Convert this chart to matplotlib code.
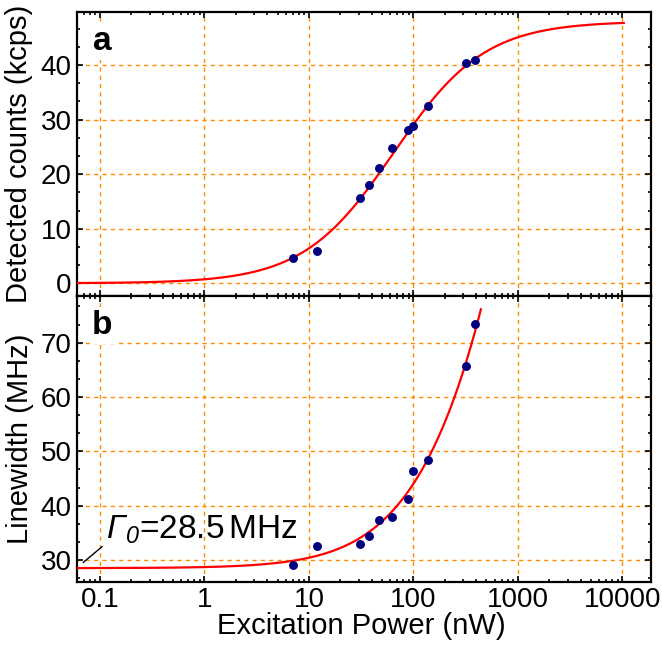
import numpy as np
import matplotlib.pyplot as plt
from matplotlib.ticker import FixedLocator, FixedFormatter, LogLocator, NullFormatter, MultipleLocator

plt.rcParams['font.family'] = ['Liberation Sans', 'DejaVu Sans']
plt.rcParams['mathtext.fontset'] = 'custom'
plt.rcParams['mathtext.rm'] = 'Liberation Sans:italic'
plt.rcParams['mathtext.it'] = 'Liberation Sans:italic'

power = [7.0, 12.0, 30.6, 37.3, 47.2, 62.5, 88.0, 98.0, 138.0, 320.0, 390.0]
counts = [4.6, 6.0, 15.6, 18.0, 21.2, 24.7, 28.1, 28.9, 32.4, 40.3, 40.9]
linewidth = [29.1, 32.5, 33.0, 34.4, 37.4, 37.9, 41.3, 46.3, 48.4, 65.7, 73.5]

# fit parameters
c_max = 48.0
p_sat_counts = 65.0
gamma0 = 28.5
p_sat_width = 72.0

xticks = [0.1, 1, 10, 100, 1000, 10000]
xticklabels = ['0.1', '1', '10', '100', '1000', '10000']

grid_col = '#ff8c00'
fit_col = '#ff0000'
dot_col = '#00007f'

fig = plt.figure(figsize=(6.62, 6.45), dpi=100)
ax1 = fig.add_axes([0.1159, 0.5416, 0.8671, 0.4403])
ax2 = fig.add_axes([0.1159, 0.0981, 0.8671, 0.4435], sharex=ax1)

p1 = np.logspace(np.log10(0.0599), np.log10(10300), 400)
ax1.plot(p1, c_max * p1 / (p1 + p_sat_counts), color=fit_col, lw=1.6, zorder=3)
ax1.plot(power, counts, 'o', color=dot_col, ms=5.4, zorder=4)

p2 = np.logspace(np.log10(0.0599), np.log10(442), 400)
ax2.plot(p2, gamma0 * np.sqrt(1 + p2 / p_sat_width), color=fit_col, lw=1.6, zorder=3)
ax2.plot(power, linewidth, 'o', color=dot_col, ms=5.4, zorder=4)

ax1.set_xscale('log')
ax1.set_xlim(0.0599, 18660)
ax1.set_ylim(-2.27, 49.76)
ax2.set_ylim(26.0, 78.66)

for ax, yt in [(ax1, [0, 10, 20, 30, 40]), (ax2, [30, 40, 50, 60, 70])]:
    ax.xaxis.set_major_locator(FixedLocator(xticks))
    ax.xaxis.set_minor_locator(LogLocator(base=10, subs=np.arange(2, 10), numticks=20))
    ax.xaxis.set_minor_formatter(NullFormatter())
    ax.yaxis.set_major_locator(FixedLocator(yt))
    ax.yaxis.set_minor_locator(MultipleLocator(10 / 3))
    ax.tick_params(which='both', direction='in', top=True, right=True, width=1.2, labelsize=20)
    ax.tick_params(which='major', length=4)
    ax.tick_params(which='minor', length=2.5)
    ax.tick_params(axis='y', pad=3.5)
    ax.tick_params(axis='x', pad=4)
    for s in ax.spines.values():
        s.set_linewidth(1.6)
    for x in xticks:
        ax.axvline(x, color=grid_col, lw=1, ls=(0, (3, 3)), zorder=1)
    for y in yt:
        ax.axhline(y, color=grid_col, lw=1, ls=(0, (3, 3)), zorder=1)

ax1.tick_params(axis='x', labelbottom=False)
ax2.xaxis.set_major_formatter(FixedFormatter(xticklabels))

ax1.set_ylabel('Detected counts (kcps)', fontsize=21)
ax2.set_ylabel('Linewidth (MHz)', fontsize=21)
ax1.yaxis.set_label_coords(-0.0756, 0.5)
ax2.yaxis.set_label_coords(-0.075, 0.5)
ax2.set_xlabel('Excitation Power (nW)', fontsize=21)
ax2.xaxis.set_label_coords(0.495, -0.105)

box = dict(facecolor='white', edgecolor='none', pad=2)
ax1.text(0.029, 0.95, 'a', transform=ax1.transAxes, fontsize=24, fontweight='bold',
         va='top', ha='left', bbox=box, zorder=5)
ax2.text(0.027, 0.95, 'b', transform=ax2.transAxes, fontsize=24, fontweight='bold',
         va='top', ha='left', bbox=box, zorder=5)

ax2.annotate('', xy=(0.0658, 29.2), xytext=(0.11, 32.8),
             arrowprops=dict(arrowstyle='-', color='black', lw=1))
ax2.text(0.114, 34.0, r'$\Gamma_0$=28.5$\,$MHz', fontsize=24, ha='left', va='baseline', zorder=5)

fig.savefig('out.png', dpi=100)
